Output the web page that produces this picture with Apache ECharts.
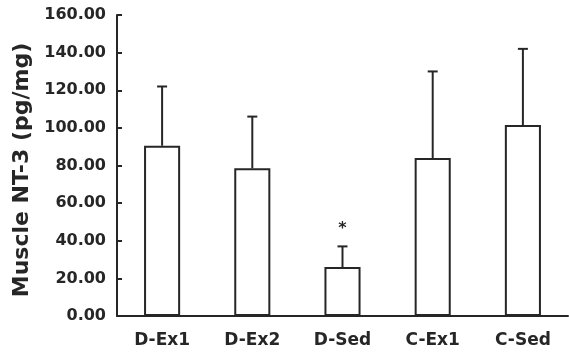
<!DOCTYPE html>
<html>
<head>
<meta charset="utf-8">
<script src="https://cdn.jsdelivr.net/npm/echarts@6/dist/echarts.min.js"></script>
<style>
  html, body { margin: 0; padding: 0; background: #fff; }
  #chart { width: 569px; height: 354px; }
</style>
</head>
<body>
<div id="chart"></div>
<script>
// 组别与数值
const categories = ['D-Ex1', 'D-Ex2', 'D-Sed', 'C-Ex1', 'C-Sed'];
const means = [90.5, 78.5, 26, 84, 101.5];
const errorTops = [122, 106, 37, 130, 142];
const marks = ['', '', '*', '', ''];
const yTicks = [0, 20, 40, 60, 80, 100, 120, 140, 160];

const ink = '#262626';
const chart = echarts.init(document.getElementById('chart'));

const option = {
  animation: false,
  backgroundColor: '#fff',
  grid: { left: 117, right: 1, top: 15, bottom: 38 },
  graphic: [{
    type: 'text',
    x: 22,
    y: 170,
    rotation: Math.PI / 2,
    style: {
      text: 'Muscle NT-3 (pg/mg)',
      fontFamily: 'DejaVu Sans',
      fontWeight: 'bold',
      fontSize: 22,
      fill: ink,
      align: 'center',
      verticalAlign: 'middle'
    }
  }],
  xAxis: {
    type: 'category',
    data: categories,
    axisLine: { lineStyle: { color: ink, width: 2 } },
    axisTick: { inside: true, length: 4, lineStyle: { color: ink, width: 2 } },
    axisLabel: {
      color: ink,
      fontFamily: 'DejaVu Sans',
      fontWeight: 'bold',
      fontSize: 17,
      margin: 16
    }
  },
  yAxis: {
    type: 'value',
    min: 0,
    max: 160,
    interval: 20,
    axisLine: { show: true, lineStyle: { color: ink, width: 2 } },
    axisTick: { show: true, inside: true, length: 5, lineStyle: { color: ink, width: 2 } },
    splitLine: { show: false },
    axisLabel: {
      color: ink,
      fontFamily: 'DejaVu Sans',
      fontWeight: 'bold',
      fontSize: 16,
      margin: 11,
      formatter: v => yTicks.includes(v) ? v.toFixed(2) : ''
    }
  },
  series: [
    {
      type: 'bar',
      data: means,
      barWidth: '40%',
      itemStyle: { color: '#fff', borderColor: ink, borderWidth: 2 }
    },
    {
      type: 'custom',
      z: 5,
      data: categories.map((c, i) => [i, means[i], errorTops[i]]),
      renderItem(params, api) {
        const idx = api.value(0);
        const base = api.coord([idx, api.value(1)]);
        const top = api.coord([idx, api.value(2)]);
        const mark = marks[params.dataIndex];
        const style = { stroke: ink, lineWidth: 2 };
        const children = [
          { type: 'line', shape: { x1: base[0], y1: base[1], x2: top[0], y2: top[1] }, style },
          { type: 'line', shape: { x1: top[0] - 5, y1: top[1], x2: top[0] + 5, y2: top[1] }, style }
        ];
        if (mark) {
          children.push({
            type: 'text',
            x: top[0],
            y: top[1] - 18,
            style: {
              text: mark,
              fontFamily: 'DejaVu Sans',
              fontWeight: 'bold',
              fontSize: 16,
              fill: ink,
              align: 'center',
              verticalAlign: 'middle'
            }
          });
        }
        return { type: 'group', children };
      }
    }
  ]
};

chart.setOption(option);
</script>
</body>
</html>
